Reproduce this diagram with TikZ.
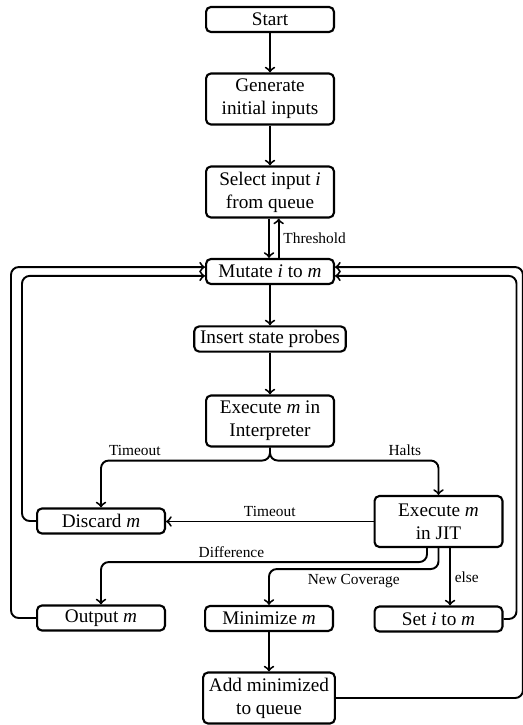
\documentclass[tikz,border=0pt]{standalone}
\usepackage{fontspec}
\setmainfont{Liberation Serif}
\tikzset{
	stepbox/.style={draw, rounded corners=2.5pt, line width=1.1pt, align=center,
		minimum width=66.5pt, minimum height=13pt, inner xsep=3pt, inner ysep=2pt},
	twoline/.style={minimum height=26.5pt},
	lbl/.style={font=\footnotesize, inner sep=2pt},
	flow/.style={->, line width=1pt, rounded corners=4pt}
}

\begin{document}
\begin{tikzpicture}[x=0.52pt, y=-0.52pt, >=to]
		\useasboundingbox (0,0) rectangle (522,725);

		\node[stepbox] (start) at (270,19.5) {Start};
		\node[stepbox, twoline] (gen) at (270,99) {Generate\\initial inputs};
		\node[stepbox, twoline] (sel) at (270,192) {Select input \textit{i}\\from queue};
		\node[stepbox] (mut) at (270,271.5) {Mutate \textit{i} to \textit{m}};
		\node[stepbox] (ins) at (270,339) {Insert state probes};
		\node[stepbox, twoline] (interp) at (270,421) {Execute \textit{m} in\\Interpreter};

		\node[stepbox] (disc) at (101,521) {Discard \textit{m}};
		\node[stepbox, twoline] (jit) at (438.5,521.5) {Execute \textit{m}\\in JIT};

		\node[stepbox] (out) at (101,618) {Output \textit{m}};
		\node[stepbox] (mini) at (269,618.5) {Minimize \textit{m}};
		\node[stepbox] (seti) at (438.5,619) {Set \textit{i} to \textit{m}};
		\node[stepbox, twoline] (add) at (269,698) {Add minimized\\to queue};

		% main line
		\draw[flow] (start) -- (gen);
		\draw[flow] (gen) -- (sel);
		\draw[flow] ([xshift=-0.5pt]sel.south) -- ([xshift=-0.5pt]mut.north);
		\draw[flow] ([xshift=4.5pt]mut.north) -- node[lbl, right] {Threshold} ([xshift=4.5pt]sel.south);
		\draw[flow] (mut) -- (ins);
		\draw[flow] (ins) -- (interp);

		% interpreter result
		\draw[flow] (interp.south) -- ++(0,13) -| node[lbl, above, pos=0.4] {Timeout} (disc.north);
		\draw[flow] (interp.south) -- ++(0,13) -| node[lbl, above, pos=0.4] {Halts} (jit.north);
		\draw[flow] (jit.west) -- node[lbl, above] {Timeout} (jit.west -| disc.east);

		% jit result
		\draw[flow] ([xshift=-6pt]jit.south) -- ++(0,14) -| node[lbl, above, pos=0.3] {Difference} (out.north);
		\draw[flow] (jit.south) -- ++(0,21) -| node[lbl, below, pos=0.25] {New Coverage} (mini.north);
		\draw[flow] ([xshift=6pt]jit.south) -- node[lbl, right] {else} ([xshift=6pt]seti.north);
		\draw[flow] (mini) -- (add);

		% back to mutate
		\draw[flow] (disc.west) -- ++(-14,0) |- ([yshift=-2.3pt]mut.west);
		\draw[flow] (out.west) -- ++(-25,0) |- ([yshift=2.3pt]mut.west);
		\draw[flow] (seti.east) -- ++(13,0) |- ([yshift=-2.3pt]mut.east);
		\draw[flow] (add.east) -- ++(187,0) |- ([yshift=2.3pt]mut.east);
	\end{tikzpicture}
\end{document}
